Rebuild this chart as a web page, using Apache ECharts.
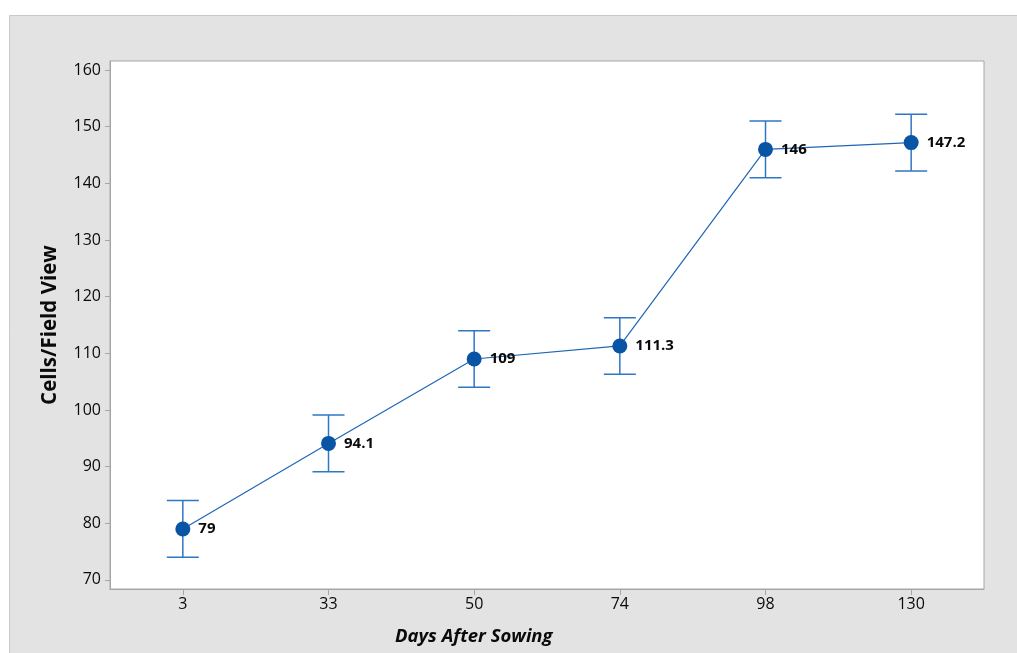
<!DOCTYPE html>
<html>
<head>
<meta charset="utf-8">
<title>Cells/Field View by Days After Sowing</title>
<script src="https://cdn.jsdelivr.net/npm/echarts@6/dist/echarts.min.js"></script>
<style>
  html, body { margin: 0; padding: 0; background: #ffffff; }
  #chart { width: 1017px; height: 653px; }
</style>
</head>
<body>
<div id="chart"></div>
<script>
// Sampling days (categories) and the mean cell count per field view
const days = ['3', '33', '50', '74', '98', '130'];
const meanCells = [79, 94.1, 109, 111.3, 146, 147.2];
// Interval bounds drawn as error bars
const lowerBound = [74, 89.1, 104, 106.3, 141, 142.2];
const upperBound = [84, 99.1, 114, 116.3, 151, 152.2];
// Y-axis tick values
const yTicks = [70, 80, 90, 100, 110, 120, 130, 140, 150, 160];

const FONT = '"Open Sans", "Noto Sans", sans-serif';
const AXIS_GRAY = '#a6a6a6';
const TEXT = '#0a0a0a';

const chart = echarts.init(document.getElementById('chart'), null, { renderer: 'canvas' });

const errorData = days.map((d, i) => [i, lowerBound[i], upperBound[i]]);

chart.setOption({
  backgroundColor: '#ffffff',
  animation: false,
  textStyle: { fontFamily: FONT },
  graphic: [
    {
      type: 'rect',
      z: -100,
      silent: true,
      shape: { x: 9.5, y: 15.5, width: 1020, height: 650 },
      style: { fill: '#e3e3e3', stroke: '#c9c9c9', lineWidth: 1 }
    },
    {
      type: 'text',
      z: 10,
      left: 395,
      top: 627,
      style: {
        text: 'Days After Sowing',
        font: 'italic bold 18.5px ' + FONT,
        fill: TEXT
      }
    }
  ],
  grid: {
    left: 110, right: 33, top: 61, bottom: 64,
    show: true,
    backgroundColor: '#ffffff',
    borderColor: AXIS_GRAY,
    borderWidth: 1
  },
  xAxis: {
    type: 'category',
    data: days,
    boundaryGap: true,
    axisLine: { show: true, lineStyle: { color: AXIS_GRAY } },
    axisTick: { show: true, alignWithLabel: true, length: 6, lineStyle: { color: AXIS_GRAY } },
    axisLabel: { color: TEXT, fontSize: 16, margin: 7, fontFamily: FONT },
    splitLine: { show: false }
  },
  yAxis: {
    type: 'value',
    min: 68.4,
    max: 161.6,
    name: 'Cells/Field View',
    nameLocation: 'middle',
    nameRotate: 90,
    nameGap: 49,
    nameTextStyle: { fontSize: 20.5, fontWeight: 'bold', color: TEXT, fontFamily: FONT },
    axisLine: { show: true, lineStyle: { color: AXIS_GRAY } },
    axisTick: { show: true, length: 5, customValues: yTicks, lineStyle: { color: AXIS_GRAY } },
    axisLabel: { color: TEXT, fontSize: 16, margin: 9, customValues: yTicks, fontFamily: FONT },
    splitLine: { show: false }
  },
  series: [
    {
      type: 'custom',
      name: 'interval',
      data: errorData,
      z: 2,
      renderItem: function (params, api) {
        const idx = api.value(0);
        const lo = api.coord([idx, api.value(1)]);
        const hi = api.coord([idx, api.value(2)]);
        const half = 16;
        const style = { stroke: '#2f76c4', lineWidth: 1.5 };
        return {
          type: 'group',
          children: [
            { type: 'line', shape: { x1: hi[0], y1: hi[1], x2: lo[0], y2: lo[1] }, style: style },
            { type: 'line', shape: { x1: hi[0] - half, y1: hi[1], x2: hi[0] + half, y2: hi[1] }, style: style },
            { type: 'line', shape: { x1: lo[0] - half, y1: lo[1], x2: lo[0] + half, y2: lo[1] }, style: style }
          ]
        };
      }
    },
    {
      type: 'line',
      name: 'mean',
      data: meanCells,
      z: 3,
      symbol: 'circle',
      symbolSize: 15,
      lineStyle: { color: '#1f66b5', width: 1.2 },
      itemStyle: { color: '#0a54a5' },
      label: {
        show: true,
        position: 'right',
        distance: 8,
        color: TEXT,
        fontSize: 15,
        fontWeight: 'bold',
        fontFamily: FONT
      }
    }
  ]
});
</script>
</body>
</html>
